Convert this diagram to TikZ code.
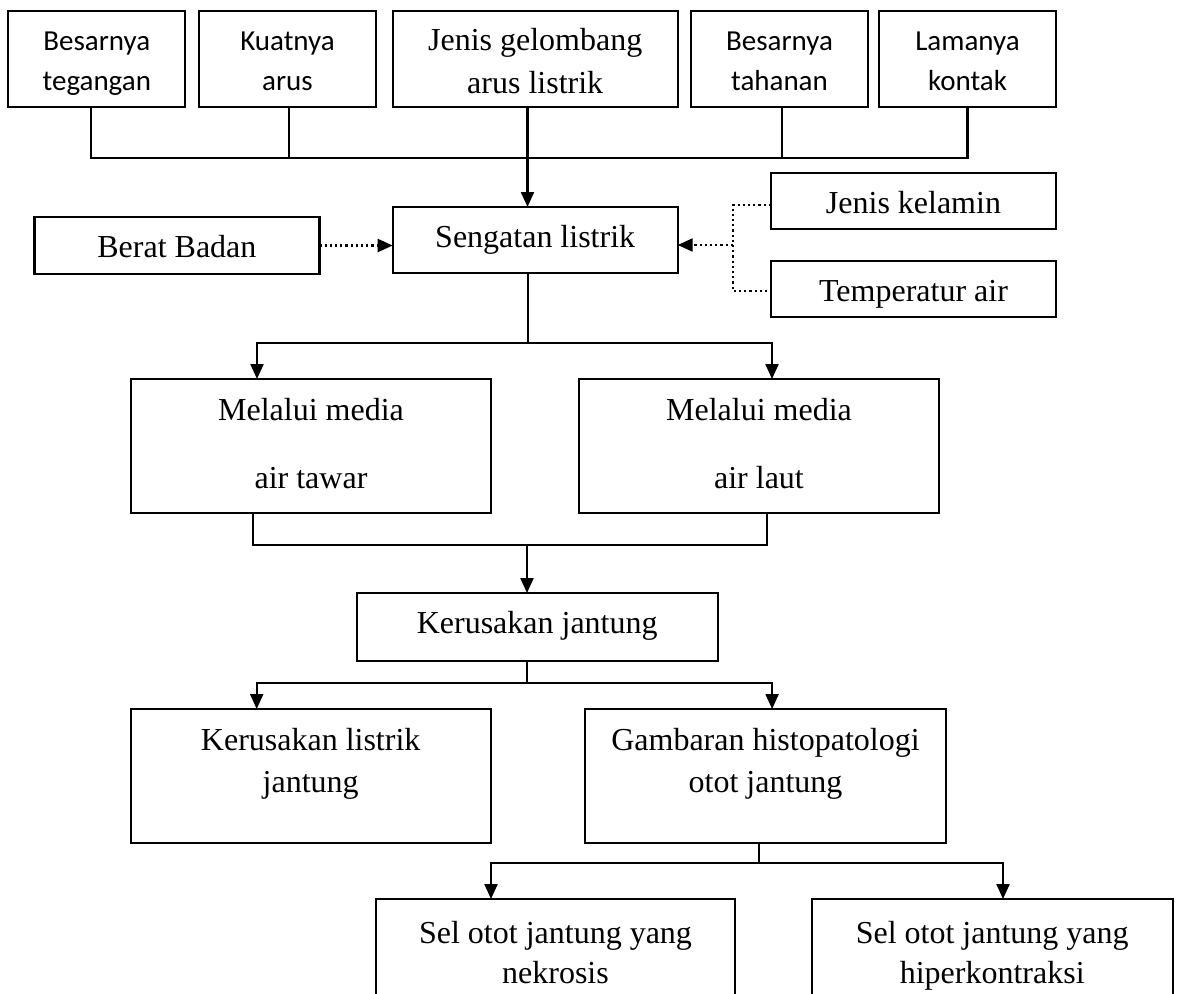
\documentclass[tikz,border=0pt]{standalone}
\usepackage{fontspec}
\setmainfont{Liberation Serif}
\newfontfamily\sansf{Carlito}
\usetikzlibrary{arrows.meta}
\newcommand{\bt}[6]{\parbox[c][#2pt][t]{#1pt}{\centering\fontsize{#4pt}{#5pt}\selectfont\rule{0pt}{#3pt}#6}}
\begin{document}
\begin{tikzpicture}[x=1pt,y=-1pt,
  box/.style={draw, line width=2.2pt, inner sep=0pt, outer sep=0pt, anchor=north west},
  sbox/.style={box, font=\sansf},
  ln/.style={line width=2.2pt},
  arr/.style={ln, -{Triangle[length=15pt,width=13pt]}},
  dot/.style={line width=2.2pt, dash pattern=on 2.2pt off 3pt},
  darr/.style={dot, -{Triangle[length=15pt,width=13pt]}}]
\useasboundingbox (0,0) rectangle (1179,994);
\clip (0,0) rectangle (1179,994);
\fill[white] (0,0) rectangle (1179,994);

% top row
\node[sbox] (b1) at (8.3,11)  {\bt{177}{96}{39}{29}{40}{Besarnya\\tegangan}};
\node[sbox] (b2) at (199,11)  {\bt{177}{96}{39}{29}{40}{Kuatnya\\arus}};
\node[box]  (b3) at (392.7,11) {\bt{285}{96}{39}{32}{43}{Jenis gelombang\\arus listrik}};
\node[sbox] (b4) at (691,11)  {\bt{177}{96}{39}{29}{40}{Besarnya\\tahanan}};
\node[sbox] (b5) at (879,11)  {\bt{177}{96}{39}{29}{40}{Lamanya\\kontak}};

% middle row
\node[box] (sl) at (392.7,207) {\bt{285}{66}{40}{32}{40}{Sengatan listrik}};
\node[box] (bb) at (34.4,217)  {\bt{285}{57}{40}{32}{40}{Berat Badan}};
\node[box] (jk) at (771,173)   {\bt{285}{56}{40}{32}{40}{Jenis kelamin}};
\node[box] (ta) at (771,261)   {\bt{285}{56}{40}{32}{40}{Temperatur air}};

\node[box] (mt) at (131,379) {\bt{360}{134}{41}{32}{68}{Melalui media\\air tawar}};
\node[box] (ml) at (579,379) {\bt{360}{134}{41}{32}{68}{Melalui media\\air laut}};

\node[box] (kj) at (356.7,593) {\bt{361}{68}{40}{32}{40}{Kerusakan jantung}};

\node[box] (kl) at (130.7,709) {\bt{360}{134}{41}{32}{42}{Kerusakan listrik\\jantung}};
\node[box] (gh) at (585,709)   {\bt{361}{134}{41}{32}{42}{Gambaran histopatologi\\otot jantung}};

\node[box] (sn) at (376,899)   {\bt{359}{115}{44}{32}{40}{Sel otot jantung yang\\nekrosis}};
\node[box] (sh) at (811.7,899) {\bt{361}{115}{44}{32}{40}{Sel otot jantung yang\\hiperkontraksi}};

% junctions
\coordinate (h1) at (527.5,158);
\coordinate (h2) at (528,343);
\coordinate (h3) at (527,545);
\coordinate (h4) at (527,683);
\coordinate (h5) at (759,863);
\coordinate (dj) at (733,245);

% top connectors
\draw[ln] ([xshift=-5.6pt]b1.south) |- (h1) -| (b5.south);
\draw[ln] ([xshift=1.6pt]b2.south) -- ([xshift=1.6pt]b2.south |- h1);
\draw[ln] ([xshift=2.5pt]b4.south) -- ([xshift=2.5pt]b4.south |- h1);
\draw[arr] ([xshift=-7.7pt]b3.south) -- ([xshift=-7.7pt]sl.north);

% dotted influences
\draw[darr] (bb.east) -- (bb.east -| sl.west);
\draw[dot] ([yshift=-4pt]jk.west) -| (dj) |- ([yshift=-2pt]ta.west);
\draw[darr] (dj) -- (dj -| sl.east);

% Sengatan -> media
\draw[ln] (h2 |- sl.south) -- (h2);
\draw[arr] (h2) -| ([xshift=-54pt]mt.north);
\draw[arr] (h2) -| ([xshift=13pt]ml.north);

% media -> Kerusakan jantung
\draw[ln] ([xshift=-58pt]mt.south) |- (h3);
\draw[ln] ([xshift=8pt]ml.south) |- (h3);
\draw[arr] (h3) -- (h3 |- kj.north);

% Kerusakan jantung -> two
\draw[ln] (h4 |- kj.south) -- (h4);
\draw[arr] (h4) -| ([xshift=-54pt]kl.north);
\draw[arr] (h4) -| ([xshift=6.6pt]gh.north);

% Gambaran -> Sel
\draw[ln] (h5 |- gh.south) -- (h5);
\draw[arr] (h5) -| ([xshift=-64.5pt]sn.north);
\draw[arr] (h5) -| ([xshift=10.8pt]sh.north);
\end{tikzpicture}
\end{document}
